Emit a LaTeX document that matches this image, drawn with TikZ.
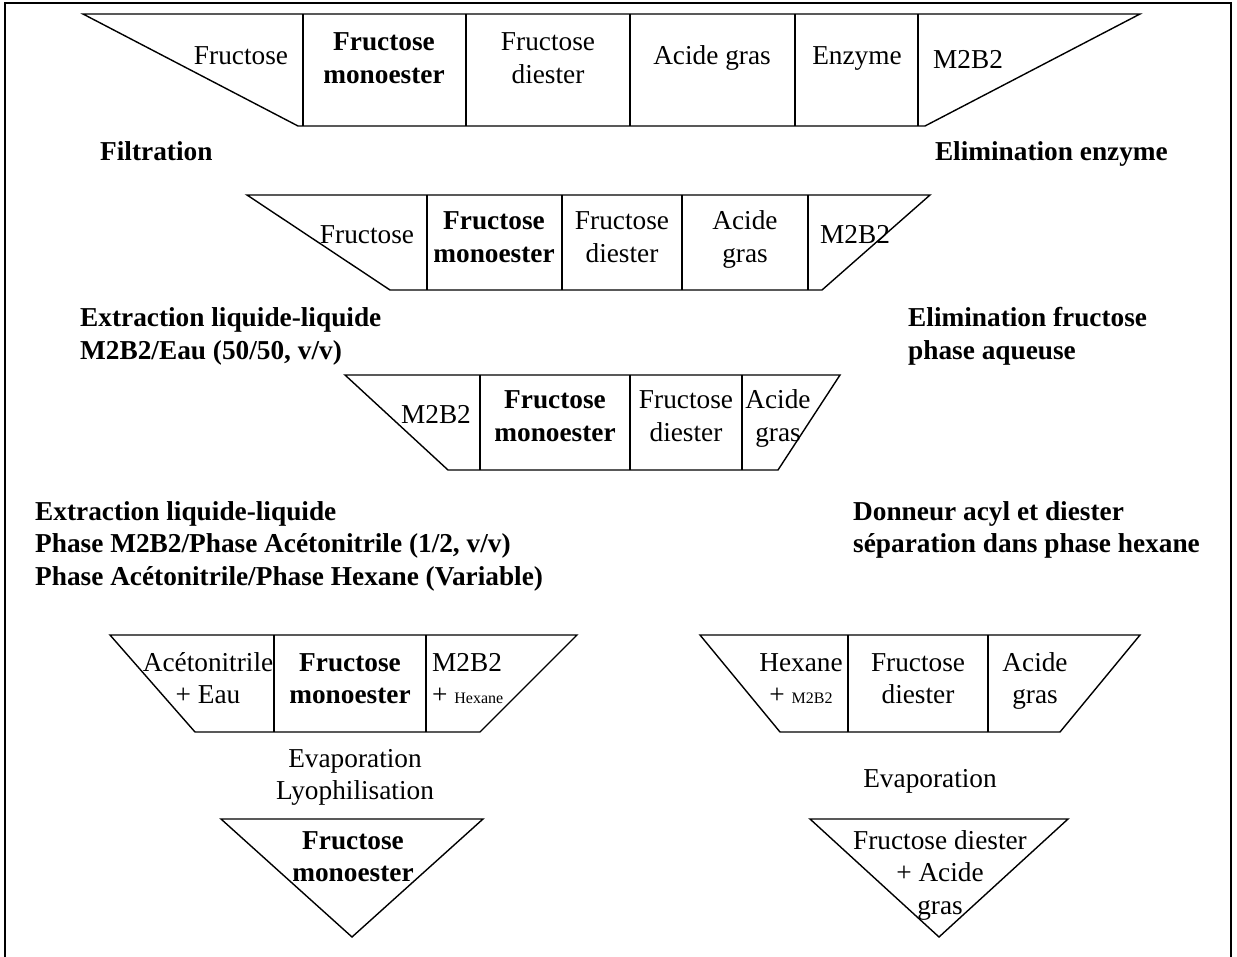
\documentclass[tikz,border=0pt]{standalone}
\usepackage{fontspec}
\setmainfont{Liberation Serif}
\newcommand\fsz{\fontsize{27.3}{32.5}\selectfont}
\newcommand\fsm{\fontsize{16}{18}\selectfont}
\tikzset{
  x=1pt, y=-1pt,
  shp/.style={line width=1.4pt, line join=miter},
  frame/.style={line width=1.2pt},
  txt/.style={inner sep=0pt, font=\fsz, align=center, anchor=base},
  txtb/.style={txt, font=\fsz\bfseries},
  txtl/.style={inner sep=0pt, font=\fsz, align=left, anchor=base west},
  lab/.style={inner sep=0pt, font=\fsz\bfseries, align=left, anchor=base west},
  labr/.style={inner sep=0pt, font=\fsz\bfseries, align=right, anchor=base east},
}
\begin{document}
\begin{tikzpicture}
\useasboundingbox (0,0) rectangle (1237,957);
% frame
\draw[frame] (5,957) -- (5,3) -- (1231,3) -- (1231,957);

% ---- Trapezoid 1
\draw[shp] (83,14) -- (1140,14) -- (925,126) -- (298,126) -- cycle;
\foreach \x in {303,466,630,795,918} \draw[shp] (\x,14) -- (\x,126);
\node[txt]  (t1a) at (241,65) {Fructose};
\node[txtb] (t1b) at (384,83.5) {Fructose\\monoester};
\node[txt]  (t1c) at (548,83.5) {Fructose\\diester};
\node[txt]  (t1d) at (712,65) {Acide gras};
\node[txt]  (t1e) at (857,65) {Enzyme};
\node[txtl] (t1f) at (933,69) {M2B2};

\node[lab]  (l1) at (100,161) {Filtration};
\node[labr] (r1) at (1168,161) {Elimination enzyme};

% ---- Trapezoid 2
\draw[shp] (247,195) -- (930,195) -- (822,290) -- (390,290) -- cycle;
\foreach \x in {427,562,682,808} \draw[shp] (\x,195) -- (\x,290);
\node[txt]  (t2a) at (367,244) {Fructose};
\node[txtb] (t2b) at (494,262.5) {Fructose\\monoester};
\node[txt]  (t2c) at (622,262.5) {Fructose\\diester};
\node[txt]  (t2d) at (745,262.5) {Acide\\gras};
\node[txtl] (t2e) at (820,244) {M2B2};

\node[lab] (l2) at (80,359.5) {Extraction liquide-liquide\\M2B2/Eau (50/50, v/v)};
\node[lab] (r2) at (908,359.5) {Elimination fructose\\phase aqueuse};

% ---- Trapezoid 3
\draw[shp] (345,375) -- (840,375) -- (778,470) -- (448,470) -- cycle;
\foreach \x in {480,630,742} \draw[shp] (\x,375) -- (\x,470);
\node[txt]  (t3a) at (436,424) {M2B2};
\node[txtb] (t3b) at (555,441.5) {Fructose\\monoester};
\node[txt]  (t3c) at (686,441.5) {Fructose\\diester};
\node[txt]  (t3d) at (778,441.5) {Acide\\gras};

\node[lab] (l3) at (35,585) {Extraction liquide-liquide\\Phase M2B2/Phase Ac\'etonitrile (1/2, v/v)\\Phase Ac\'etonitrile/Phase Hexane (Variable)};
\node[lab] (r3) at (853,552.5) {Donneur acyl et diester\\s\'eparation dans phase hexane};

% ---- Trapezoid 4
\draw[shp] (110,635) -- (577,635) -- (480,732) -- (195,732) -- cycle;
\foreach \x in {274,426} \draw[shp] (\x,635) -- (\x,732);
\node[txt]  (t4a) at (208,703.5) {Ac\'etonitrile\\+ Eau};
\node[txtb] (t4b) at (350,703.5) {Fructose\\monoester};
\node[txtl] (t4c) at (432,703.5) {M2B2\\+ {\fsm Hexane}};

% ---- Trapezoid 5
\draw[shp] (700,635) -- (1140,635) -- (1060,732) -- (780,732) -- cycle;
\foreach \x in {848,988} \draw[shp] (\x,635) -- (\x,732);
\node[txt] (t5a) at (801,703.5) {Hexane\\+ {\fsm M2B2}};
\node[txt] (t5b) at (918,703.5) {Fructose\\diester};
\node[txt] (t5c) at (1035,703.5) {Acide\\gras};

\node[txt] (e1) at (355,799.5) {Evaporation\\Lyophilisation};
\node[txt] (e2) at (930,787) {Evaporation};

% ---- Triangles
\draw[shp] (221,819) -- (483,819) -- (352,937) -- cycle;
\node[txtb] (f1) at (353,881.5) {Fructose\\monoester};
\draw[shp] (810,819) -- (1068,819) -- (939,937) -- cycle;
\node[txt] (f2) at (940,914) {Fructose diester\\+ Acide\\gras};
\end{tikzpicture}
\end{document}
